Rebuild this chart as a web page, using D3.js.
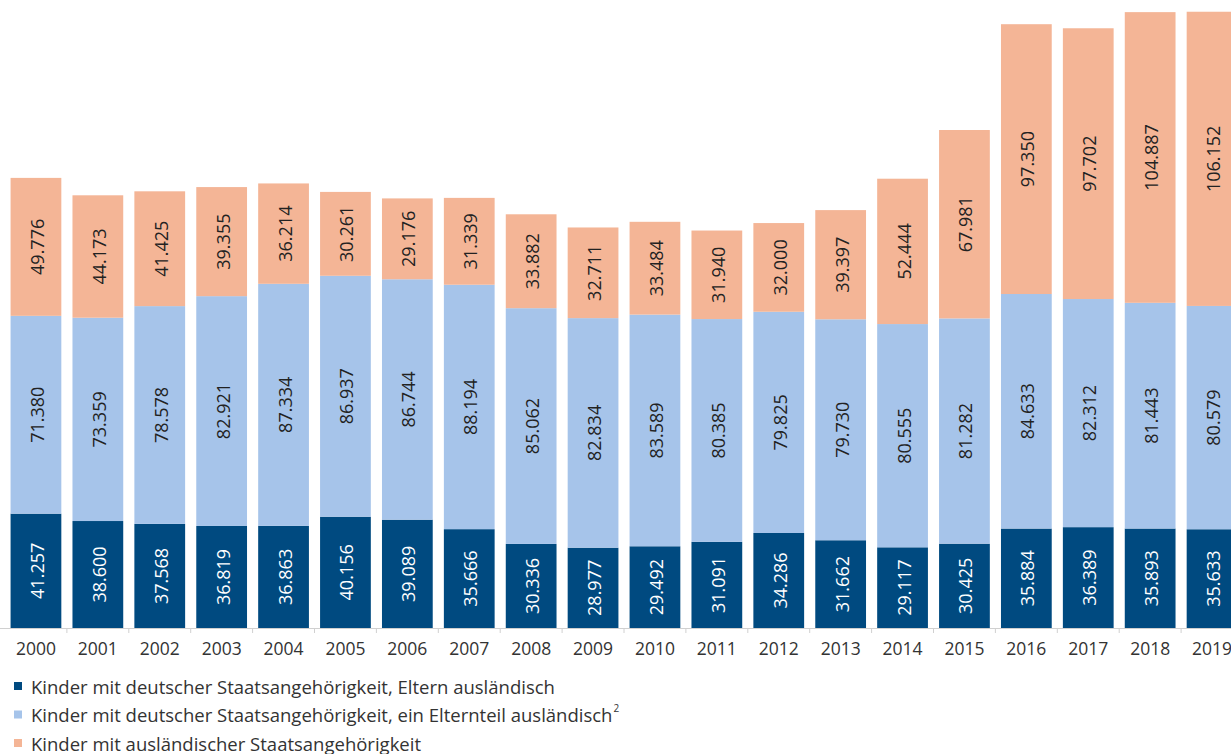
<!DOCTYPE html>
<html><head><meta charset="utf-8">
<script src="https://cdn.jsdelivr.net/npm/d3@7"></script>
<style>body{margin:0;background:#fff;} text{font-family:"Open Sans",sans-serif;}</style>
</head><body>
<svg id="c" width="1231" height="754"></svg>
<script>
const years = ["2000","2001","2002","2003","2004","2005","2006","2007","2008","2009","2010","2011","2012","2013","2014","2015","2016","2017","2018","2019"];
const germanParentsForeign = [41257,38600,37568,36819,36863,40156,39089,35666,30336,28977,29492,31091,34286,31662,29117,30425,35884,36389,35893,35633];
const germanOneParentForeign = [71380,73359,78578,82921,87334,86937,86744,88194,85062,82834,83589,80385,79825,79730,80555,81282,84633,82312,81443,80579];
const foreignNationality = [49776,44173,41425,39355,36214,30261,29176,31339,33882,32711,33484,31940,32000,39397,52444,67981,97350,97702,104887,106152];
const seriesNames = ["Kinder mit deutscher Staatsangehörigkeit, Eltern ausländisch","Kinder mit deutscher Staatsangehörigkeit, ein Elternteil ausländisch","Kinder mit ausländischer Staatsangehörigkeit"];
const colors = ["#004a80","#a6c4ea","#f4b596"];
const textColors = ["#ffffff","#222222","#222222"];

const svg = d3.select("#c");
const fmt = v => d3.format(",")(v).replace(/,/g,".");
const rows = years.map((y,i)=>({year:y, s0:germanParentsForeign[i], s1:germanOneParentForeign[i], s2:foreignNationality[i]}));
const stack = d3.stack().keys(["s0","s1","s2"])(rows);

const baseY = 628;
const x = d3.scaleBand().domain(years).range([5, 1243]).paddingInner(0.18).paddingOuter(0.09);
const y = d3.scaleLinear().domain([0, 226600]).range([baseY, 0]);

svg.append("line").attr("x1",0).attr("x2",1231).attr("y1",baseY+0.5).attr("y2",baseY+0.5).attr("stroke","#d0d0d0");
const step = x.step();
years.forEach((yr,i)=>{
  if(i>0){
    const tx = x(yr) - (step - x.bandwidth())/2;
    svg.append("line").attr("x1",tx).attr("x2",tx).attr("y1",baseY).attr("y2",baseY+5).attr("stroke","#d0d0d0");
  }
});

stack.forEach((layer,k)=>{
  const g = svg.append("g");
  g.selectAll("rect").data(layer).join("rect")
    .attr("x",d=>x(d.data.year)).attr("width",x.bandwidth())
    .attr("y",d=>y(d[1])).attr("height",d=>y(d[0])-y(d[1]))
    .attr("fill",colors[k]);
  g.selectAll("text").data(layer).join("text")
    .attr("transform",d=>`translate(${x(d.data.year)+x.bandwidth()/2+1},${(y(d[0])+y(d[1]))/2}) rotate(-90)`)
    .attr("text-anchor","middle").attr("dominant-baseline","central")
    .attr("font-size",18).attr("fill",textColors[k])
    .text(d=>fmt(d[1]-d[0]));
});

svg.append("g").selectAll("text").data(years).join("text")
  .attr("x",d=>x(d)+x.bandwidth()/2).attr("y",655)
  .attr("text-anchor","middle").attr("font-size",17.5).attr("fill","#333")
  .text(d=>d);

const leg = svg.append("g");
seriesNames.forEach((n,i)=>{
  const ly = 686 + i*28.5;
  leg.append("rect").attr("x",14).attr("y",ly-4).attr("width",8).attr("height",8).attr("fill",colors[i]);
  const t = leg.append("text").attr("x",31).attr("y",ly).attr("dominant-baseline","central")
    .attr("font-size",18.5).attr("fill","#333").text(n);
  if(i===1) t.append("tspan").attr("font-size",10).attr("dy",-7).attr("dx",1).text("2");
});
</script>
</body></html>
